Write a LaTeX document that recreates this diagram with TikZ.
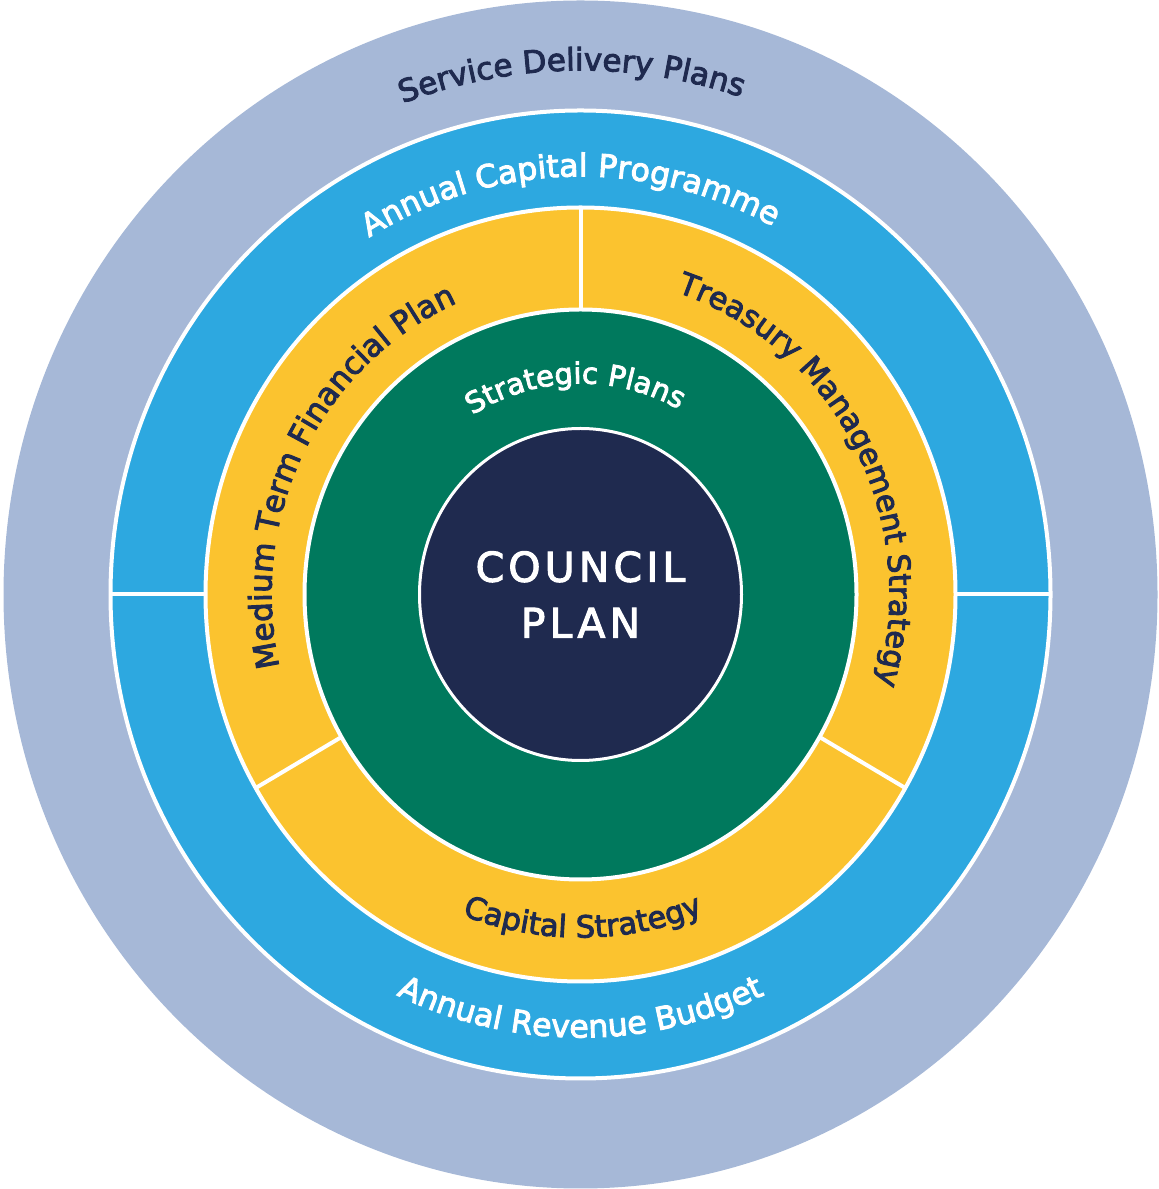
\documentclass[tikz,border=0pt]{standalone}
\usepackage{fontspec}
\setmainfont{DejaVu Sans}
\newfontfamily\arcfont[FakeBold=3]{DejaVu Sans}
\newfontfamily\centrefont[LetterSpace=10, FakeBold=2.5]{DejaVu Sans}
\usetikzlibrary{decorations.text}
\definecolor{ringgrey}{HTML}{A6B8D7}
\definecolor{ringblue}{HTML}{2DA8E0}
\definecolor{ringyellow}{HTML}{FBC32F}
\definecolor{ringgreen}{HTML}{00795D}
\definecolor{navy}{HTML}{1F2A4F}
\tikzset{
  ringedge/.style={draw=white, line width=4},
  divider/.style={draw=white, line width=4},
  arctext/.style n args={3}{decorate, decoration={text along path, text align=center,
     text color=#1, text={|\arcfont\fontsize{#2}{#2}\selectfont|#3}}}
}
\begin{document}
\begin{tikzpicture}[x=1pt,y=1pt]
\useasboundingbox (0,0) rectangle (1159,1189);
\coordinate (C) at (580.5,594.5);
% rings
\fill[ringgrey] (C) ellipse [x radius=577, y radius=594];
\path[fill=ringblue, ringedge] (C) ellipse [x radius=470, y radius=484];
\path[fill=ringyellow, ringedge] (C) ellipse [x radius=375, y radius=387];
\path[fill=ringgreen, ringedge] (C) ellipse [x radius=276, y radius=285];
\path[fill=navy, draw=white, line width=3] (C) ellipse [x radius=161, y radius=166];
% dividers
\coordinate (bl1) at ([shift={(180:375 and 387)}]C);
\coordinate (bl2) at ([shift={(180:470 and 484)}]C);
\coordinate (br1) at ([shift={(0:375 and 387)}]C);
\coordinate (br2) at ([shift={(0:470 and 484)}]C);
\coordinate (yt1) at ([shift={(90:276 and 285)}]C);
\coordinate (yt2) at ([shift={(90:375 and 387)}]C);
\coordinate (yl1) at ([shift={(210:276 and 285)}]C);
\coordinate (yl2) at ([shift={(210:375 and 387)}]C);
\coordinate (yr1) at ([shift={(330:276 and 285)}]C);
\coordinate (yr2) at ([shift={(330:375 and 387)}]C);
\draw[divider] (bl1) -- (bl2);
\draw[divider] (br1) -- (br2);
\draw[divider] (yt1) -- (yt2);
\draw[divider] (yl1) -- (yl2);
\draw[divider] (yr1) -- (yr2);
% curved texts
\path[arctext={navy}{31}{Service Delivery Plans}]
  ([shift={(151:509 and 524)}]C) arc[start angle=151, end angle=31, x radius=509, y radius=524];
\path[arctext={white}{31.5}{Annual Capital Programme}]
  ([shift={(161.5:406 and 418)}]C) arc[start angle=161.5, end angle=21.5, x radius=406, y radius=418];
\path[arctext={navy}{31}{Medium Term Financial Plan}]
  ([shift={(223:309 and 318)}]C) arc[start angle=223, end angle=83, x radius=309, y radius=318];
\path[arctext={navy}{30.5}{Treasury Management Strategy}]
  ([shift={(98:309 and 318)}]C) arc[start angle=98, end angle=-42, x radius=309, y radius=318];
\path[arctext={white}{29}{Strategic Plans}]
  ([shift={(151.5:205 and 211)}]C) arc[start angle=151.5, end angle=31.5, x radius=205, y radius=211];
\path[arctext={navy}{30.5}{Capital Strategy}]
  ([shift={(210.4:333 and 343)}]C) arc[start angle=210.4, end angle=330.4, x radius=333, y radius=343];
\path[arctext={white}{31.5}{Annual Revenue Budget}]
  ([shift={(210:430 and 443)}]C) arc[start angle=210, end angle=330, x radius=430, y radius=443];
% centre
\node[text=white, align=center, font=\centrefont\fontsize{41}{56}\selectfont] (council) at (C) {COUNCIL\\PLAN};
\end{tikzpicture}
\end{document}
